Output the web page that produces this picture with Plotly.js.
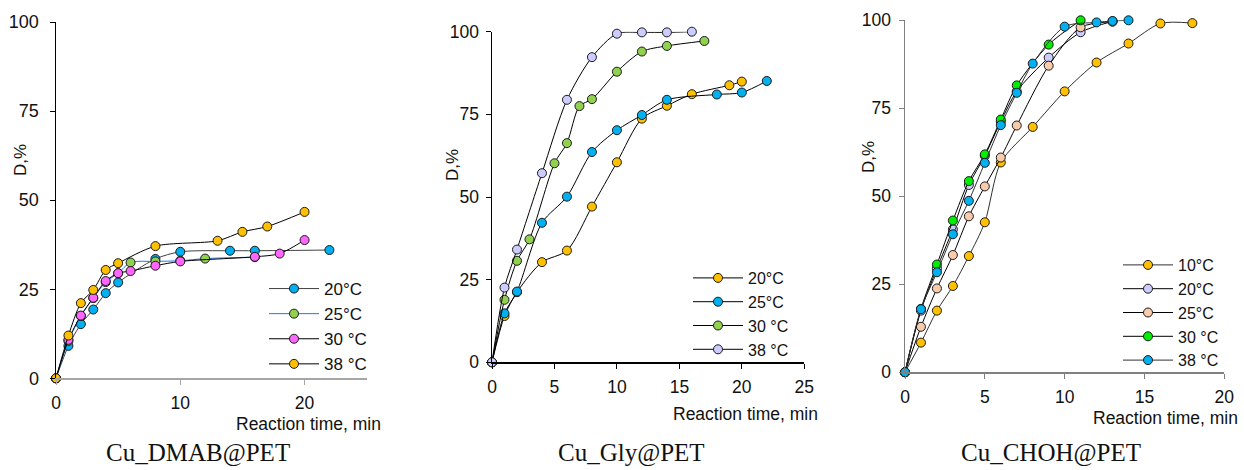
<!DOCTYPE html>
<html><head><meta charset="utf-8">
<script src="https://cdn.plot.ly/plotly-3.0.1.min.js"></script>
<style>html,body{margin:0;padding:0;background:#fff}#chart{width:1244px;height:470px}</style>
</head><body><div id="chart"></div>
<script>
// ---- Panel 1: Cu_DMAB@PET ----
const dmabT20 = [0,1,2,3,4,5,8,10,14,16,22];
const dmabD20 = [0,9.1,15.2,19.3,23.9,26.9,33.5,35.5,35.8,35.8,36.0];
const dmabT25 = [0,1,2,3,4,5,6,8,10,12,16];
const dmabD25 = [0,10.5,17.5,22.5,27,29.5,32.5,32.8,33,33.6,34.0];
const dmabT30 = [0,1,2,3,4,5,6,8,10,16,18,20];
const dmabD30 = [0,10.8,17.6,22.6,27.3,29.5,30.1,31.6,32.8,34.1,35.0,38.8];
const dmabT38 = [0,1,2,3,4,5,8,13,15,17,20];
const dmabD38 = [0,12.0,21.1,24.8,30.4,32.3,37.1,38.6,41.1,42.6,46.7];
const dmabNames = ["20°C","25°C","30 °C","38 °C"];

// ---- Panel 2: Cu_Gly@PET ----
const glyT20 = [0,1,2,4,6,8,10,12,14,16,19,20];
const glyD20 = [0,14.0,21.2,30.3,33.8,47.1,60.5,73.7,77.6,81.1,83.8,84.9];
const glyT25 = [0,1,2,4,6,8,10,12,14,18,20,22];
const glyD25 = [0,14.8,21.4,42.2,50.1,63.6,70.2,74.8,79.4,81.0,81.6,85.1];
const glyT30 = [0,1,2,3,5,6,7,8,10,12,14,17];
const glyD30 = [0,18.9,30.7,37.2,60.2,66.3,77.5,79.6,87.9,94.0,95.7,97.2];
const glyT38 = [0,1,2,4,6,8,10,12,14,16];
const glyD38 = [0,22.6,34.1,57.2,79.4,92.3,99.4,99.8,99.8,100];
const glyNames = ["20°C","25°C","30 °C","38 °C"];

// ---- Panel 3: Cu_CHOH@PET ----
const chohT10 = [0,1,2,3,4,5,6,8,10,12,14,16,18];
const chohD10 = [0,8.4,17.5,24.5,33.0,42.6,59.6,69.7,79.8,88.0,93.4,99.1,99.2];
const chohT20 = [0,1,2,3,4,5,6,7,9,11,13];
const chohD20 = [0,17.5,29.5,40.6,53.2,61.5,71.2,79.8,89.4,96.6,99.7];
const chohT25 = [0,1,2,3,4,5,6,7,9,11,13];
const chohD25 = [0,12.9,23.8,33.3,44.3,52.8,61.0,70.1,87.1,98.0,99.6];
const chohT30 = [0,1,2,3,4,5,6,7,9,11];
const chohD30 = [0,18,30.6,43.1,54.3,61.9,71.8,81.5,93.1,100];
const chohT38 = [0,1,2,3,4,5,6,7,8,10,12,13,14];
const chohD38 = [0,17.9,28.4,39.2,48.7,59.5,70.2,79.4,87.7,98.2,99.4,99.8,100];
const chohNames = ["10°C","20°C","25°C","30 °C","38 °C"];

const captions = ["Cu_DMAB@PET","Cu_Gly@PET","Cu_CHOH@PET"];
const yTitle = "D,%";
const xTitle = "Reaction time, min";

const ORANGE="#FFC000", BLUE="#00B0F0", GREEN="#92D050", PINK="#FF66FF",
      LAV="#CCCCFF", PEACH="#F8CBAD", LIME="#00EE00";
const FONT = "Liberation Sans, Arial, sans-serif";
const SERIF = "Liberation Serif, Times New Roman, serif";

function tr(x, y, name, fill, lineColor, ax, leg){
  return {x:x, y:y, name:name, type:'scatter', mode:'lines+markers',
    xaxis:'x'+ax, yaxis:'y'+ax, legend:leg, cliponaxis:false,
    line:{color:lineColor, width:1, shape:'spline', smoothing:0.8},
    marker:{size:9, color:fill, line:{color:'#1a1a1a', width:1}}};
}

const data = [
  tr(dmabT20,dmabD20,dmabNames[0],BLUE,'#404040','','legend'),
  tr(dmabT25,dmabD25,dmabNames[1],GREEN,'#1E74FF','','legend'),
  tr(dmabT30,dmabD30,dmabNames[2],PINK,'#000','','legend'),
  tr(dmabT38,dmabD38,dmabNames[3],ORANGE,'#000','','legend'),
  tr(glyT20,glyD20,glyNames[0],ORANGE,'#000','2','legend2'),
  tr(glyT25,glyD25,glyNames[1],BLUE,'#000','2','legend2'),
  tr(glyT30,glyD30,glyNames[2],GREEN,'#000','2','legend2'),
  tr(glyT38,glyD38,glyNames[3],LAV,'#000','2','legend2'),
  tr(chohT10,chohD10,chohNames[0],ORANGE,'#303030','3','legend3'),
  tr(chohT20,chohD20,chohNames[1],LAV,'#000','3','legend3'),
  tr(chohT25,chohD25,chohNames[2],PEACH,'#000','3','legend3'),
  tr(chohT30,chohD30,chohNames[3],LIME,'#000','3','legend3'),
  tr(chohT38,chohD38,chohNames[4],BLUE,'#303030','3','legend3')
];

const W=1244, H=470;
const px = v => v/W, py = v => 1 - v/H;

function xa(d0,d1,range,tickvals,lc,tc,fs,anchor){
  return {domain:[px(d0),px(d1)], range:range, tickvals:tickvals, anchor:anchor,
    showline:true, linecolor:lc, linewidth:1.5, ticks:'outside', ticklen:5, tickcolor:tc,
    showgrid:false, zeroline:false, ticklabelstandoff:3,
    tickfont:{family:FONT, size:fs, color:'#111'}, fixedrange:true};
}
function ya(d0,d1,lc,tc,fs,anchor,so){
  return {domain:[py(d0),py(d1)], range:[0,100], tickvals:[0,25,50,75,100], anchor:anchor,
    showline:true, linecolor:lc, linewidth:1.5, ticks:'outside', ticklen:5, tickcolor:tc,
    showgrid:false, zeroline:false, ticklabelstandoff:so,
    tickfont:{family:FONT, size:fs, color:'#111'}, fixedrange:true};
}

function ann(text,x,y,size,family,angle,yanchor){
  return {text:text, x:px(x), y:py(y), xref:'paper', yref:'paper', showarrow:false,
    xanchor:'center', yanchor:yanchor||'middle', textangle:angle||0,
    font:{family:family, size:size, color:'#111'}};
}
function leg(x,y,fs){
  return {x:px(x), y:py(y), xanchor:'left', yanchor:'top', bgcolor:'rgba(0,0,0,0)',
    itemwidth:50, font:{family:FONT,size:fs,color:'#111'}, tracegroupgap:0};
}

const layout = {
  width:W, height:H, margin:{l:0,r:0,t:0,b:0},
  paper_bgcolor:'#fff', plot_bgcolor:'#fff', showlegend:true,
  font:{family:FONT, color:'#111'},
  xaxis: xa(56,366.7,[0,25],[0,10,20],'#A6A6A6','#A6A6A6',17.5,'y'),
  yaxis: ya(378.3,22,'#000','#000',18,'x',7),
  xaxis2: xa(492,804.3,[0,25],[0,5,10,15,20,25],'#000','#000',17.5,'y2'),
  yaxis2: ya(362.3,31.7,'#000','#000',17.5,'x2',3),
  xaxis3: xa(905,1224.3,[0,20],[0,5,10,15,20],'#808080','#808080',17.5,'y3'),
  yaxis3: ya(372.2,20.3,'#808080','#808080',17.5,'x3',4),
  legend: leg(264,271,17),
  legend2: leg(688,261,16),
  legend3: leg(1118,248,16),
  annotations:[
    ann(yTitle,20,160,17,FONT,-90),
    ann(yTitle,452,165,17,FONT,-90),
    ann(yTitle,868,157,17,FONT,-90),
    ann(xTitle,308.5,424,17.5,FONT),
    ann(xTitle,745,414,17.5,FONT),
    ann(xTitle,1165,418,17.5,FONT),
    ann(captions[0],198,469,25,SERIF,0,'bottom'),
    ann(captions[1],631,469,25,SERIF,0,'bottom'),
    ann(captions[2],1051,469,25,SERIF,0,'bottom')
  ]
};

Plotly.newPlot('chart', data, layout, {displayModeBar:false, staticPlot:true});
</script></body></html>
